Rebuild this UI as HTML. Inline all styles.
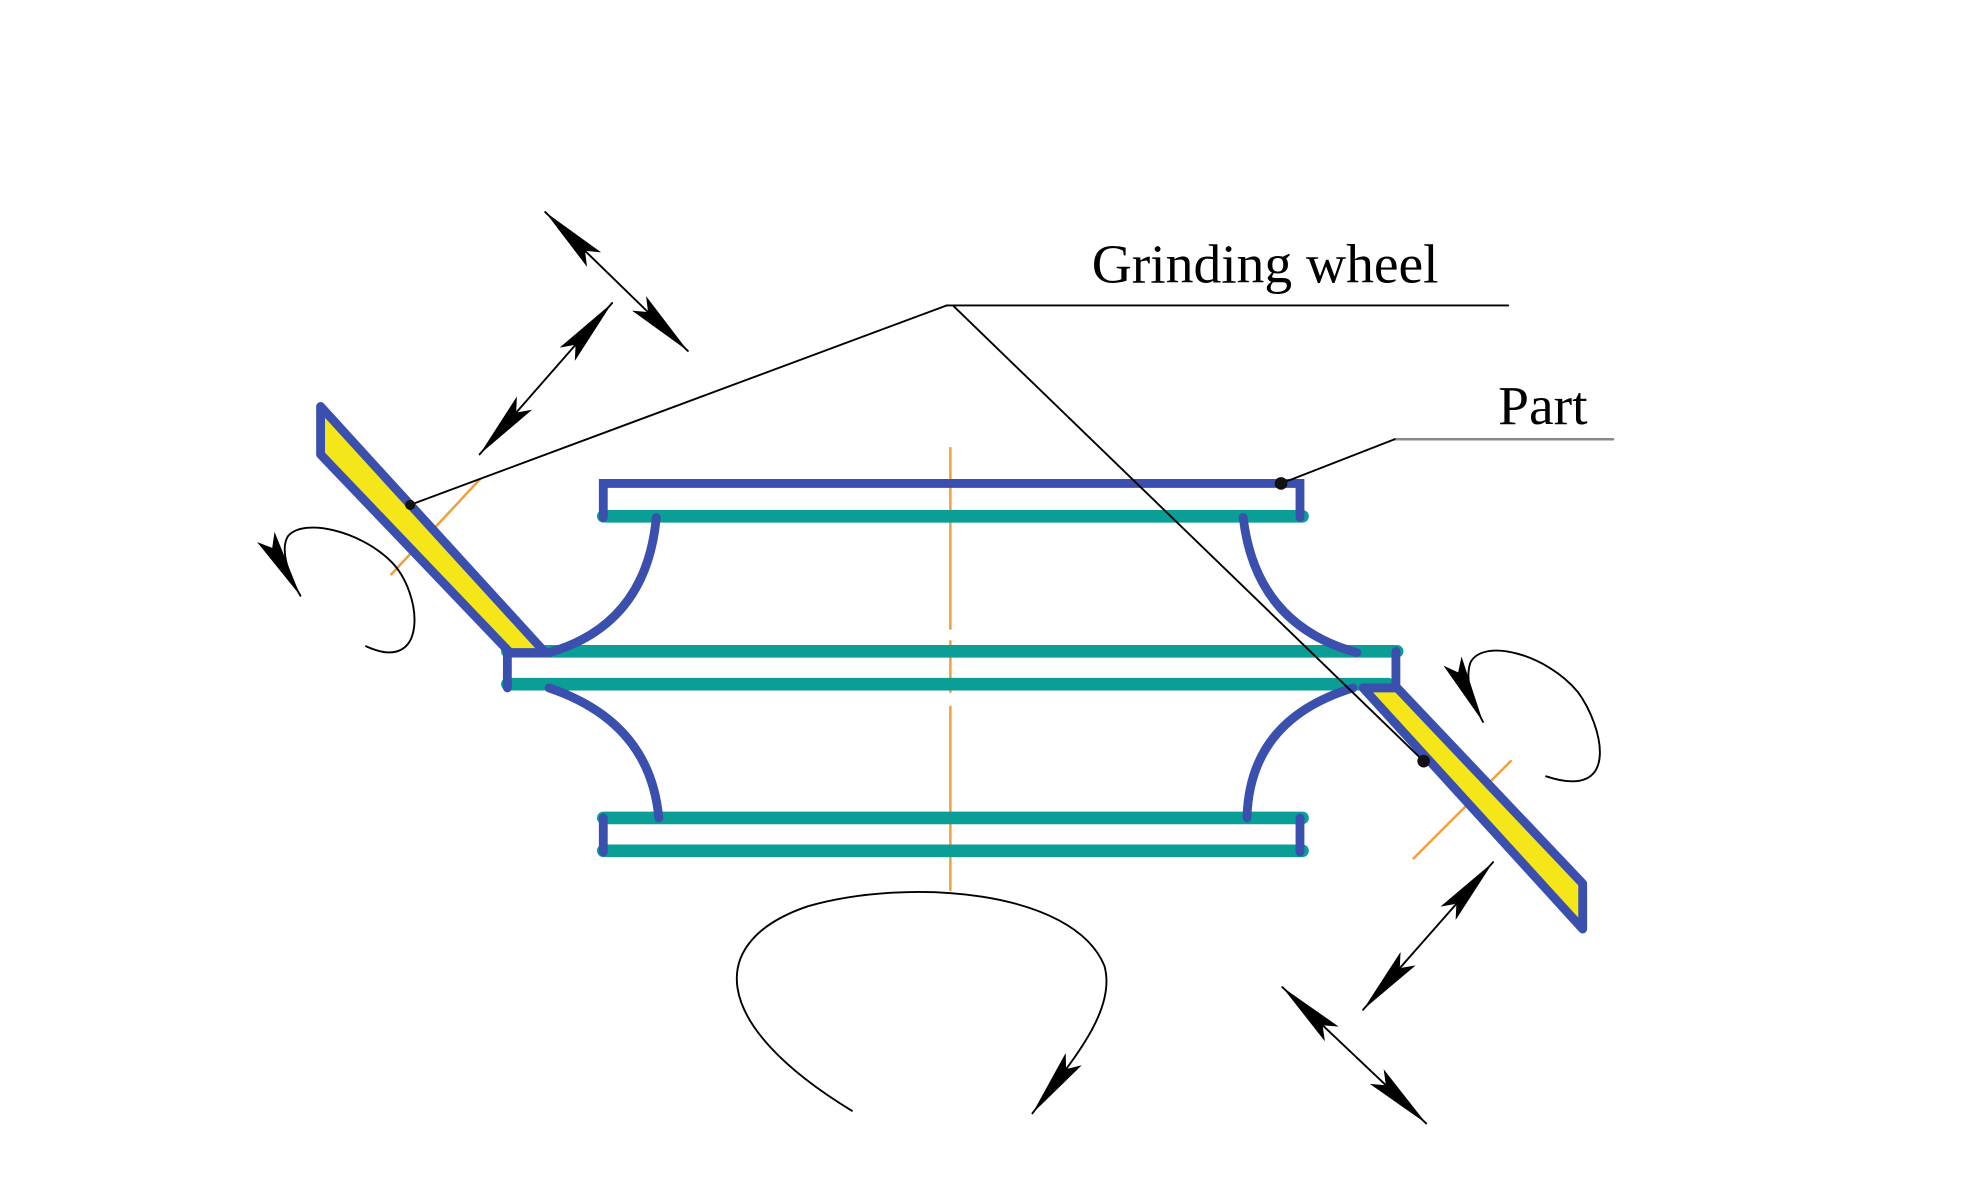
<!DOCTYPE html>
<html><head><meta charset="utf-8"><style>html,body{margin:0;padding:0;background:#fff}svg{display:block}</style></head>
<body>
<svg width="1979" height="1184" viewBox="0 0 1568 938" preserveAspectRatio="none" xmlns="http://www.w3.org/2000/svg">
<defs>
<marker id="ah" viewBox="0 0 54 18" refX="54" refY="9" markerWidth="54" markerHeight="18" markerUnits="userSpaceOnUse" orient="auto-start-reverse">
<path d="M0,1 L54,9 L0,17 L10,9 z" fill="#000"/>
</marker>
</defs>
<g fill="none" stroke-linecap="round">
<g stroke="#f0a040" stroke-width="2">
<line x1="753" y1="355" x2="753" y2="498"/>
<line x1="753" y1="508" x2="753" y2="548"/>
<line x1="753" y1="560" x2="753" y2="705"/>
<line x1="310" y1="455" x2="380" y2="380"/>
<line x1="1120" y1="680" x2="1197" y2="603"/>
</g>
<g stroke="#0a9e96" stroke-width="10">
<line x1="478" y1="409" x2="1032" y2="409"/>
<line x1="402" y1="516" x2="1107" y2="516"/>
<line x1="402" y1="542" x2="1100" y2="542"/>
<line x1="478" y1="648" x2="1032" y2="648"/>
<line x1="478" y1="674" x2="1032" y2="674"/>
</g>
<g stroke="#3a4fae" stroke-width="7">
<polyline points="478,410 478,383 1030,383 1030,410"/>
<line x1="402" y1="516" x2="402" y2="545"/>
<line x1="1106" y1="516" x2="1106" y2="543"/>
<line x1="478" y1="648" x2="478" y2="675"/>
<line x1="1030" y1="648" x2="1030" y2="675"/>
<path d="M520,410 Q512,495 435,517"/>
<path d="M985,410 Q995,495 1075,517"/>
<path d="M435,545 Q515,572 522,648"/>
<path d="M1072,545 Q990,570 988,648"/>
</g>
<polygon points="254,322 432,517 404,517 254,360" fill="#f5e61a" stroke="#3a4fae" stroke-width="7" stroke-linejoin="round"/>
<polygon points="1080,545 1107,545 1254,700 1254,736" fill="#f5e61a" stroke="#3a4fae" stroke-width="7" stroke-linejoin="round"/>
<g stroke="#000" stroke-width="1.5">
<line x1="750" y1="242" x2="1195" y2="242"/>
<line x1="750" y1="242" x2="325" y2="400"/>
<line x1="755" y1="242" x2="1128" y2="603"/>
<line x1="1105" y1="348" x2="1278" y2="348" stroke="#888" stroke-width="2"/>
<line x1="1105" y1="348" x2="1015" y2="383"/>
</g>
<g fill="#111">
<circle cx="325" cy="400" r="4"/><circle cx="1128" cy="603" r="5"/><circle cx="1015" cy="383" r="5"/>
</g>
<g stroke="#000" stroke-width="1.5" marker-start="url(#ah)" marker-end="url(#ah)">
<line x1="380" y1="360" x2="485" y2="240"/>
<line x1="432" y1="168" x2="545" y2="278"/>
<line x1="1080" y1="800" x2="1183" y2="683"/>
<line x1="1016" y1="782" x2="1130" y2="890"/>
</g>
<g stroke="#000" stroke-width="1.5" marker-end="url(#ah)">
<path d="M290,512 C340,535 335,470 310,445 C285,420 240,410 228,425 C222,435 228,455 238,472"/>
<path d="M1225,615 C1285,635 1270,575 1250,548 C1225,518 1175,505 1165,525 C1160,540 1168,558 1175,572"/>
<path d="M675,880 C560,810 560,745 640,718 C720,695 850,705 875,765 C885,800 850,840 818,882"/>
</g>
</g>
<text x="865" y="224" font-family="Liberation Serif, serif" font-size="44" fill="#000">Grinding wheel</text>
<text x="1187" y="336" font-family="Liberation Serif, serif" font-size="44" fill="#000">Part</text>
</svg>
</body></html>
